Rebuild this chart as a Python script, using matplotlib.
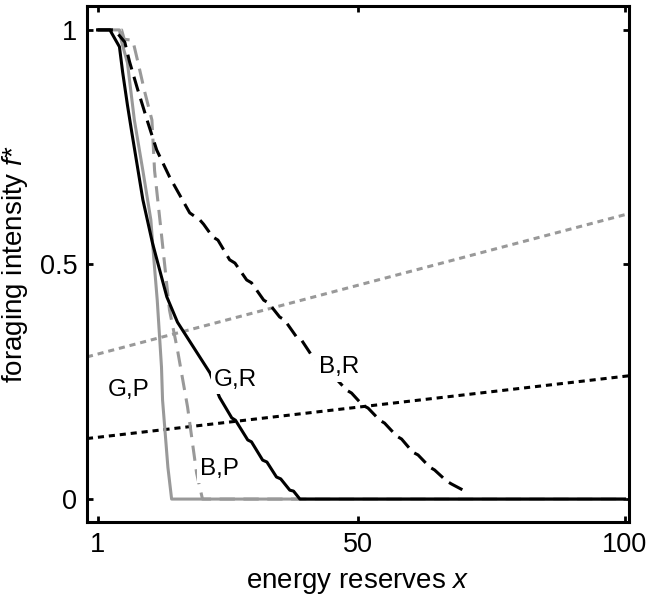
#%% foraging intensity vs energy reserves
import matplotlib
matplotlib.use('Agg')
import matplotlib.pyplot as plt

# G,R  (black solid)
gr_x = [1, 3.3, 5.1, 5.7, 6.6, 7.4, 9.5, 11.3, 14.0, 16.0, 22.1, 23.9, 26.2, 26.9, 29.2, 29.9,
        32.0, 32.8, 34.6, 35.4, 37.1, 37.8, 39.0, 100]
gr_y = [1, 1, 0.964, 0.910, 0.840, 0.783, 0.638, 0.546, 0.431, 0.377, 0.269, 0.217, 0.173, 0.168,
        0.126, 0.122, 0.083, 0.079, 0.047, 0.043, 0.019, 0.017, 0.0, 0.0]

# G,P  (grey solid)
gp_x = [1, 5.1, 5.5, 6.6, 7.9, 9.5, 11.0, 11.5, 12.2, 13.0, 13.2, 14.2, 14.9, 100]
gp_y = [1, 1, 0.975, 0.930, 0.808, 0.700, 0.595, 0.520, 0.424, 0.281, 0.211, 0.068, 0.0, 0.0]

# B,P  (grey dashed)
bp_x = [1, 5.5, 6.0, 7.6, 8.6, 9.8, 11.2, 11.7, 12.7, 14.5, 16.0, 17.9, 19.6, 20.7, 100]
bp_y = [1, 1, 0.980, 0.978, 0.930, 0.870, 0.808, 0.700, 0.595, 0.403, 0.318, 0.196, 0.055, 0.0, 0.0]

# B,R  (black dashed)
br_x = [1, 4.2, 6.1, 7.0, 8.5, 10.4, 12.1, 14.5, 18.3, 20.2, 20.9, 22.6, 23.6, 25.8, 26.8, 29.0,
        29.9, 32.2, 33.1, 35.2, 36.1, 38.4, 39.3, 41.4, 42.4, 44.6, 45.5, 47.8, 48.7, 50.8, 51.8,
        54.0, 54.9, 57.2, 58.1, 60.2, 61.2, 63.4, 64.3, 66.6, 67.5, 70.0]
br_y = [1, 1, 0.974, 0.932, 0.874, 0.804, 0.744, 0.687, 0.610, 0.595, 0.586, 0.559, 0.552, 0.510,
        0.503, 0.467, 0.461, 0.424, 0.418, 0.388, 0.382, 0.345, 0.339, 0.303, 0.296, 0.267, 0.260,
        0.232, 0.226, 0.200, 0.194, 0.168, 0.162, 0.134, 0.128, 0.100, 0.094, 0.068, 0.062, 0.038,
        0.032, 0.017]

# straight dotted lines (grey and black)
line_x = [-1, 101]
grey_dot_y = [0.303, 0.609]
black_dot_y = [0.129, 0.263]

labels = ['G,P', 'G,R', 'B,P', 'B,R']
label_x = [6.9, 26.9, 23.9, 46.3]
label_y = [0.232, 0.254, 0.064, 0.281]

grey = '#999999'

plt.rcParams['font.family'] = ['Liberation Sans', 'DejaVu Sans']
plt.rcParams['mathtext.fontset'] = 'custom'
plt.rcParams['mathtext.rm'] = 'Liberation Sans'
plt.rcParams['mathtext.it'] = 'Liberation Sans:italic'

fig = plt.figure(figsize=(6.51, 5.98), dpi=100)
ax = fig.add_axes([0.1336, 0.127, 0.8324, 0.863])

lw = 2.2
ax.plot(line_x, grey_dot_y, color=grey, lw=lw, linestyle=(0, (2, 1.6)))
ax.plot(line_x, black_dot_y, color='k', lw=lw, linestyle=(0, (2, 1.6)))
ax.plot(gp_x, gp_y, color=grey, lw=lw)
ax.plot(bp_x, bp_y, color=grey, lw=lw, linestyle=(0, (5, 2.8)))
ax.plot(gr_x, gr_y, color='k', lw=lw)
ax.plot(br_x, br_y, color='k', lw=lw, linestyle=(0, (5, 2.5)))

for t, x, y in zip(labels, label_x, label_y):
    ax.text(x, y, t, fontsize=17.5, ha='center', va='center', zorder=5,
            bbox=dict(facecolor='white', edgecolor='none', pad=2.5))

ax.set_xlim(-1, 100.8)
ax.set_ylim(-0.049, 1.051)
ax.set_xticks([1, 50, 100])
ax.set_yticks([0, 0.5, 1])
ax.set_yticklabels(['0', '0.5', '1'])
ax.tick_params(direction='in', length=4, width=2, labelsize=19.5, pad=7,
               top=True, right=True)
for s in ax.spines.values():
    s.set_linewidth(2.2)

ax.set_xlabel('energy reserves $x$', fontsize=20)
ax.set_ylabel('foraging intensity $f$*', fontsize=20)
ax.xaxis.set_label_coords(0.5, -0.093)
ax.yaxis.set_label_coords(-0.105, 0.5)

fig.savefig('out.png', dpi=100)
